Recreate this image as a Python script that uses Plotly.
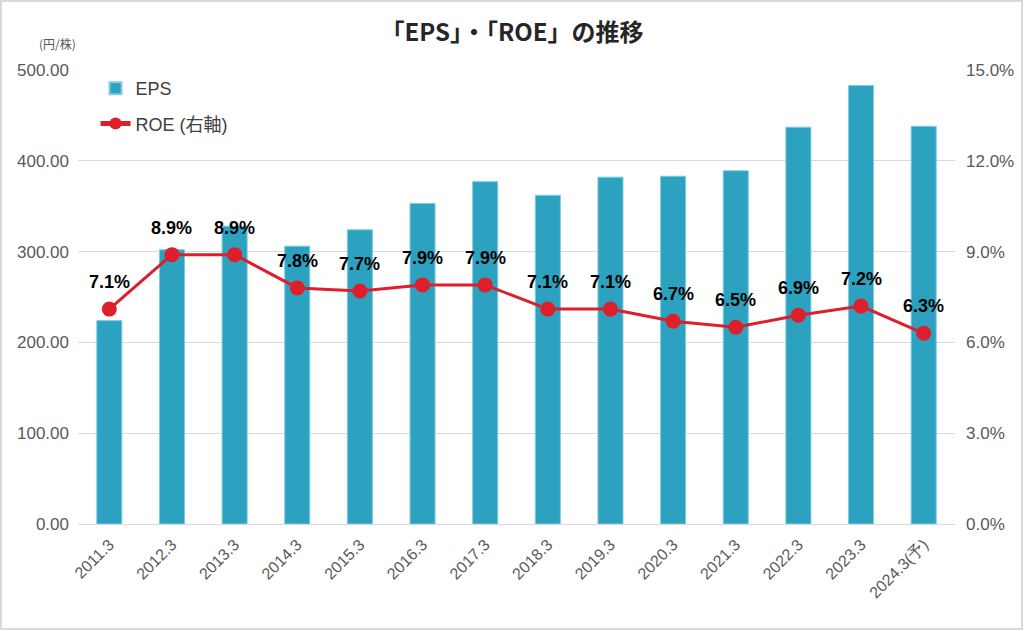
import plotly.graph_objects as go

categories = ["2011.3", "2012.3", "2013.3", "2014.3", "2015.3", "2016.3", "2017.3",
              "2018.3", "2019.3", "2020.3", "2021.3", "2022.3", "2023.3", "2024.3(予)"]
eps = [224, 302, 328, 306, 324, 353, 377, 362, 382, 383, 389, 437, 483, 438]
roe = [7.1, 8.9, 8.9, 7.8, 7.7, 7.9, 7.9, 7.1, 7.1, 6.7, 6.5, 6.9, 7.2, 6.3]
left_ticks = [0, 100, 200, 300, 400, 500]
right_ticks = [0, 3, 6, 9, 12, 15]

FONT = "Liberation Sans, Arial, sans-serif"
GREY = "#595959"

fig = go.Figure()
fig.add_trace(go.Bar(
    x=categories, y=eps, name="EPS", legendgroup="a",
    marker=dict(color="#2ca2c0", line=dict(color="#7fcbe0", width=1)),
    width=0.4, yaxis="y",
))
fig.add_trace(go.Scatter(
    x=categories, y=roe, name="ROE (右軸)", yaxis="y2", legendgroup="b",
    mode="lines+markers",
    line=dict(color="#dc1f2b", width=3),
    marker=dict(color="#dc1f2b", size=15),
))
for i, v in enumerate(roe):
    fig.add_annotation(x=i, y=v, xref="x", yref="y2", text=f"<b>{v:.1f}%</b>",
                       showarrow=False, yshift=27, yanchor="middle",
                       font=dict(family=FONT, size=18, color="#000000"))

fig.update_layout(
    width=1024, height=631,
    paper_bgcolor="white", plot_bgcolor="white",
    margin=dict(l=78, r=69, t=70, b=107, autoexpand=False),
    title=dict(text="<b>「EPS」・「ROE」の推移</b>", x=0.5, xanchor="center", y=0.948, yanchor="middle",
               font=dict(family="Noto Sans CJK JP", size=24, color="#262626")),
    font=dict(family=FONT, color=GREY),
    bargap=0.6,
    showlegend=True,
    legend=dict(x=0.02, y=1.0, xanchor="left", yanchor="top",
                font=dict(family="Liberation Sans, Noto Sans CJK JP", size=18, color="#404040"),
                bgcolor="rgba(255,255,255,0)", tracegroupgap=9, itemsizing="constant"),
    xaxis=dict(type="category", categoryorder="array", categoryarray=categories,
               range=[-0.5, len(categories) - 0.5],
               tickangle=-45, tickfont=dict(size=16, color=GREY, family=FONT), automargin=False,
               showgrid=False, showline=True, linecolor="#d9d9d9", linewidth=1, ticks="",
               ticklabelstandoff=4),
    yaxis=dict(range=[0, 500], tickvals=left_ticks, ticktext=[f"{v:.2f}" for v in left_ticks],
               tickfont=dict(size=17, color=GREY, family=FONT), automargin=False,
               ticklabelstandoff=8,
               showgrid=True, gridcolor="#d9d9d9", gridwidth=1, zeroline=False, ticks=""),
    yaxis2=dict(range=[0, 15], tickvals=right_ticks, ticktext=[f"{v:.1f}%" for v in right_ticks],
                overlaying="y", side="right", showgrid=False, zeroline=False, automargin=False,
                ticklabelstandoff=10,
                tickfont=dict(size=17, color=GREY, family=FONT)),
)
fig.add_annotation(text="(円/株)", xref="paper", yref="paper", x=0.0, y=1.035, xanchor="right",
                   yanchor="bottom", showarrow=False,
                   font=dict(family="Noto Sans CJK JP", size=12, color=GREY))
fig.add_shape(type="rect", xref="paper", yref="paper", x0=-77/877, x1=1+67/877, y0=-105/454,
              y1=1+69/454, line=dict(color="#d9d9d9", width=2))

fig.write_html("out.html", config={"displayModeBar": False},
               post_script="document.body.style.margin='0';document.body.style.padding='0';")
